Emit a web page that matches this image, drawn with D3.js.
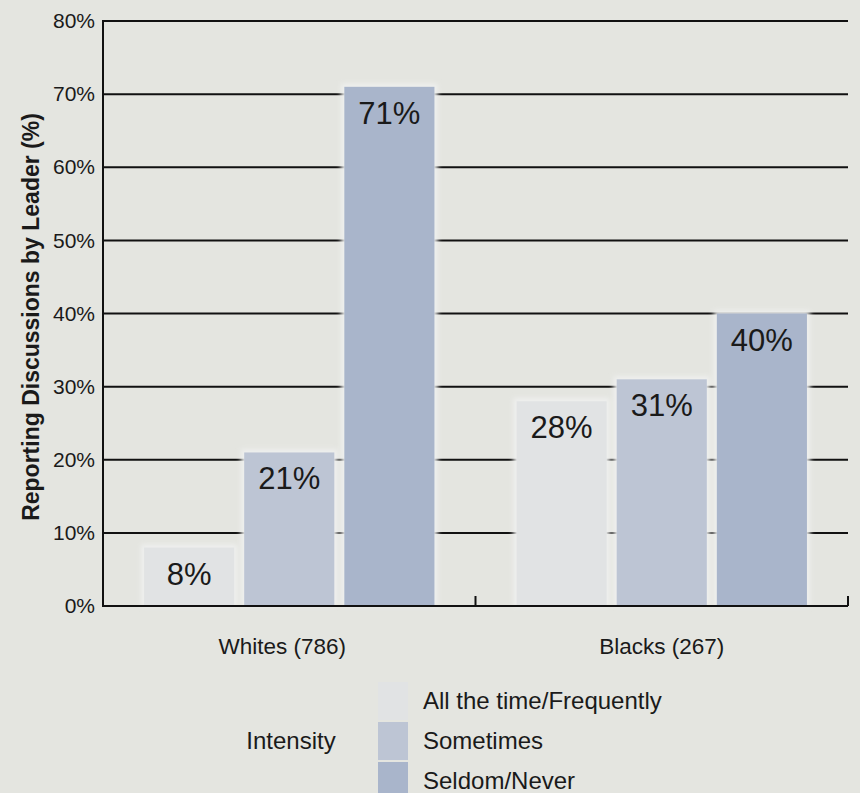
<!DOCTYPE html>
<html>
<head>
<meta charset="utf-8">
<script src="https://cdn.jsdelivr.net/npm/d3@7"></script>
<style>
  html, body { margin: 0; padding: 0; background: #e4e5e0; }
  svg { display: block; font-family: "Liberation Sans", Arial, sans-serif; }
</style>
</head>
<body>
<svg id="chart" width="860" height="793"></svg>
<script>
const groups = ["Whites (786)", "Blacks (267)"];
const series = ["All the time/Frequently", "Sometimes", "Seldom/Never"];
const whitesValues = [8, 21, 71];
const blacksValues = [28, 31, 40];
const yTicks = [0, 10, 20, 30, 40, 50, 60, 70, 80];
const colors = ["#e1e3e4", "#bdc5d4", "#a9b5cb"];
const yLabel = "Reporting Discussions by Leader (%)";
const legendTitle = "Intensity";

const data = [whitesValues, blacksValues];

const svg = d3.select("#chart");
const plotLeft = 103, plotRight = 848, plotTop = 21, plotBottom = 606;

const defs = svg.append("defs");
defs.append("filter").attr("id", "glow").attr("x", "-20%").attr("y", "-20%").attr("width", "140%").attr("height", "140%")
  .append("feGaussianBlur").attr("stdDeviation", 2.5);

const x0 = d3.scaleBand().domain(groups).range([plotLeft, plotRight]).paddingInner(0).paddingOuter(0);
const x1 = d3.scaleBand().domain(series).range([0, x0.bandwidth()]).paddingInner(0.1).paddingOuter(0.41);
const y = d3.scaleLinear().domain([0, 80]).range([plotBottom, plotTop]);
const color = d3.scaleOrdinal().domain(series).range(colors);

// gridlines
svg.append("g").selectAll("line").data(yTicks.filter(t => t > 0)).join("line")
  .attr("x1", plotLeft).attr("x2", plotRight)
  .attr("y1", d => y(d)).attr("y2", d => y(d))
  .attr("stroke", "#111").attr("stroke-width", 2);

// y axis
const yAxis = d3.axisLeft(y).tickValues(yTicks).tickFormat(d => d + "%").tickSize(0).tickPadding(8);
const ya = svg.append("g").attr("transform", `translate(${plotLeft},0)`).call(yAxis);
ya.select(".domain").remove();
ya.selectAll("text").attr("font-size", 21).attr("fill", "#1a1a1a").attr("font-family", "Liberation Sans, Arial, sans-serif");

// bars
const gGroups = svg.append("g").selectAll("g").data(groups).join("g")
  .attr("transform", d => `translate(${x0(d)},0)`);

gGroups.each(function(gname, gi) {
  const g = d3.select(this);
  const vals = series.map((s, i) => ({ s, v: data[gi][i] }));
  g.selectAll("rect.halo").data(vals).join("rect").attr("class", "halo")
    .attr("x", d => x1(d.s) - 3).attr("width", x1.bandwidth() + 6)
    .attr("y", d => y(d.v) - 3).attr("height", d => plotBottom - y(d.v) + 3)
    .attr("fill", "#eff0ef").attr("filter", "url(#glow)");
  g.selectAll("rect.bar").data(vals).join("rect").attr("class", "bar")
    .attr("x", d => x1(d.s)).attr("width", x1.bandwidth())
    .attr("y", d => y(d.v)).attr("height", d => plotBottom - y(d.v))
    .attr("fill", d => color(d.s));
  g.selectAll("text.val").data(vals).join("text").attr("class", "val")
    .attr("x", d => x1(d.s) + x1.bandwidth() / 2)
    .attr("y", d => y(d.v) + 37)
    .attr("text-anchor", "middle").attr("font-size", 31).attr("fill", "#1a1a1a")
    .text(d => d.v + "%");
});

// axes lines
svg.append("line").attr("x1", plotLeft).attr("x2", plotLeft).attr("y1", plotTop - 1).attr("y2", plotBottom + 1)
  .attr("stroke", "#111").attr("stroke-width", 2);
svg.append("line").attr("x1", plotLeft).attr("x2", plotRight).attr("y1", plotBottom).attr("y2", plotBottom)
  .attr("stroke", "#111").attr("stroke-width", 2);
svg.append("g").selectAll("line").data(groups).join("line")
  .attr("x1", d => x0(d) + x0.bandwidth()).attr("x2", d => x0(d) + x0.bandwidth())
  .attr("y1", plotBottom - 10).attr("y2", plotBottom)
  .attr("stroke", "#111").attr("stroke-width", 2);

// x labels
const xAxis = d3.axisBottom(x0).tickSize(0).tickPadding(0);
const xa = svg.append("g").attr("transform", `translate(0,${plotBottom})`).call(xAxis);
xa.select(".domain").remove();
xa.selectAll("text").attr("font-size", 22.5).attr("fill", "#1a1a1a").attr("dy", 0).attr("y", 48)
  .attr("dx", (d, i) => i === 0 ? -7 : 0)
  .attr("font-family", "Liberation Sans, Arial, sans-serif");

// y label
svg.append("text").attr("transform", "translate(39,317) rotate(-90)")
  .attr("text-anchor", "middle").attr("font-size", 23).attr("font-weight", "bold").attr("fill", "#1a1a1a")
  .text(yLabel);

// legend
const lg = svg.append("g");
lg.append("text").attr("x", 291).attr("y", 749).attr("text-anchor", "middle")
  .attr("font-size", 24).attr("fill", "#1a1a1a").text(legendTitle);
const rows = lg.selectAll("g.row").data(series).join("g").attr("class", "row")
  .attr("transform", (d, i) => `translate(0,${701 + i * 40})`);
rows.append("rect").attr("x", 378).attr("y", -19).attr("width", 30).attr("height", 38)
  .attr("fill", d => color(d));
rows.append("text").attr("x", 423).attr("y", 8).attr("font-size", 24).attr("fill", "#1a1a1a").text(d => d);
</script>
</body>
</html>
